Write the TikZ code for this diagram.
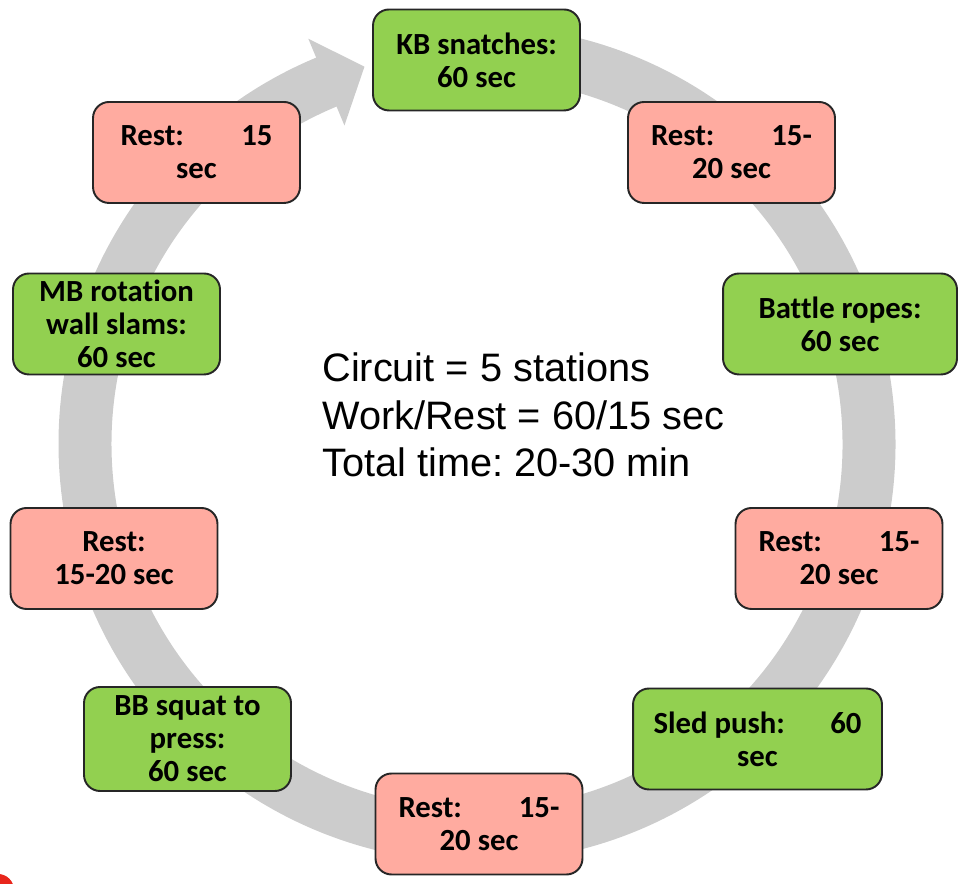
\documentclass[tikz,border=0pt]{standalone}
\usepackage{fontspec}
\setmainfont{Carlito}[Ligatures=CommonOff]
\newfontfamily\arialfont{Liberation Sans}
\usetikzlibrary{calc,positioning}
\frenchspacing

\definecolor{workgreen}{HTML}{92D050}
\definecolor{restpink}{HTML}{FFABA0}
\definecolor{ringgray}{HTML}{CCCCCC}
\definecolor{edgedark}{HTML}{262626}
\definecolor{dotred}{HTML}{E8261C}

\begin{document}
\begin{tikzpicture}[x=0.02cm,y=0.02cm,line join=round,
    box/.style={draw=edgedark,line width=1.1pt,rounded corners=0.32cm,
      align=flush center,inner xsep=0.46cm,inner ysep=0pt,text width=3.22cm,
      minimum height=2.02cm,font=\fontsize{17.5}{18.7}\selectfont\bfseries},
    workbox/.style={box,fill=workgreen},
    restbox/.style={box,fill=restpink},
    ring/.style={draw=ringgray,line width=1.06cm}]
  \useasboundingbox (0,0) rectangle (966,884);
  \coordinate (C) at (477,440);
  % circular arrow behind the stations
  \draw[ring] ($(C)+(95:392)$) arc[start angle=95,end angle=-248,radius=392];
  \fill[ringgray] ($(C)+(112.6:439)$) -- ($(C)+(112:392)+(22:37)$)
    -- ($(C)+(112.6:345)$) -- cycle;
  \fill[dotred] (-2,-6) circle[radius=16];

  \node[workbox,text width=3.5cm,inner xsep=0.32cm] (kb) at (476.5,824) {KB snatches:\\60 sec};
  \node[restbox] (rest1) at (731.5,731.5) {Rest:\hfill 15-\\20 sec};
  \node[workbox,text width=3.76cm] (ropes) at (840,560) {Battle ropes:\\60 sec};
  \node[restbox] (rest2) at (839,325.5) {Rest:\hfill 15-\\20 sec};
  \node[workbox,text width=4.16cm,inner xsep=0.41cm] (sled) at (757.5,145)
    {Sled push:\hfill 60\\sec};
  \node[restbox] (rest3) at (479,60) {Rest:\hfill 15-\\20 sec};
  \node[workbox,minimum height=2.08cm] (squat) at (187.5,145) {BB squat to\\press:\\60 sec};
  \node[restbox] (rest4) at (114,325.5) {Rest:\\15-20 sec};
  \node[workbox] (slams) at (116.5,560) {MB rotation\\wall slams:\\60 sec};
  \node[restbox,text width=3.04cm,inner xsep=0.55cm] (rest5) at (196.5,731.5)
    {Rest:\hfill 15\\sec};

  % summary in the middle
  \node[anchor=west,align=left,inner sep=0pt,
    font=\arialfont\fontsize{22.6}{26.9}\selectfont] (info) at (322,469)
    {Circuit = 5 stations\\Work/Rest = 60/15 sec\\Total time: 20-30 min};
\end{tikzpicture}
\end{document}
